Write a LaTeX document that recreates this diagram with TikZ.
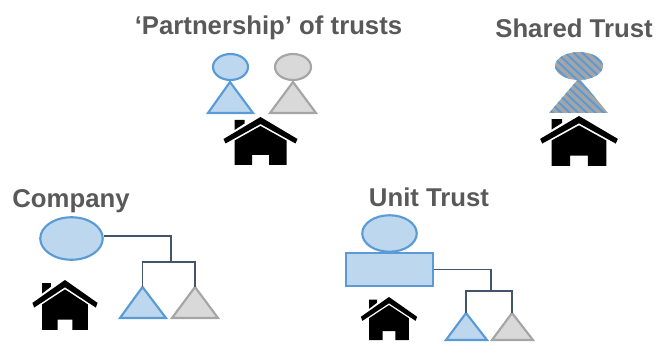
\documentclass[tikz,border=0pt]{standalone}
\usepackage{fontspec}
\setmainfont{Liberation Sans}
\definecolor{bluefill}{HTML}{BDD7EE}
\definecolor{blueline}{HTML}{5B9BD5}
\definecolor{grayfill}{HTML}{D9D9D9}
\definecolor{grayline}{HTML}{A5A5A5}
\definecolor{conn}{HTML}{44546A}
\definecolor{titlecol}{HTML}{595959}
\tikzset{
  title/.style={font=\fontsize{19.3}{22}\selectfont\bfseries,text=titlecol,anchor=base,inner sep=0pt},
  blueshape/.style={draw=blueline,fill=bluefill,line width=1.6pt,line join=miter},
  grayshape/.style={draw=grayline,fill=grayfill,line width=1.6pt,line join=miter},
  connector/.style={draw=conn,line width=1.2pt},
  house/.pic={
    \fill[black] (0,0)--(37,22)--(35,26.5)--(0,7)--(-35,26.5)--(-37,22)--cycle;
    \fill[black] (-26,3)--(-16,3)--(-16,6.5)--(-26,13)--cycle;
    \fill[black] (0,9)--(26,23.5)--(26,48)--(8.5,48)--(8.5,38)--(-8.5,38)--(-8.5,48)--(-26,48)--(-26,23.5)--cycle;
  }
}
\usetikzlibrary{shapes.geometric}
\begin{document}
\begin{tikzpicture}[x=0.75pt,y=-0.75pt]
\useasboundingbox (0,0) rectangle (660,349);
% titles
\node[title] (t1) at (268.5,34.5) {‘Partnership’ of trusts};
\node[title] (t2) at (574,37.5) {Shared Trust};
\node[title] (t3) at (71,207) {Company};
\node[title] (t4) at (429,206.5) {Unit Trust};
% partnership
\draw[blueshape] (230.5,67) ellipse (17.5 and 13);
\draw[grayshape] (293,67) ellipse (18 and 13);
\draw[blueshape] (230,82)--(253,113)--(208,113)--cycle;
\draw[grayshape] (293,82)--(316,113)--(270,113)--cycle;
\pic at (260.5,117) {house};
% shared
\begin{scope}
  \clip (579,66) ellipse (24 and 14) (579,78)--(608,113)--(549,113)--cycle;
  \fill[grayline] (540,45) rectangle (620,120);
  \foreach \k in {-14,...,12} \draw[blueline,line width=1.5pt] (540+\k*8.5,45)--(620+\k*8.5,120);
\end{scope}
\pic[xscale=1.05,yscale=1.04] at (579,116) {house};
% company
\node[ellipse,draw=blueline,fill=bluefill,line width=1.6pt,minimum width=62.5*0.75pt,minimum height=42.5*0.75pt,inner sep=0pt] (co) at (71.5,238.5) {};
\coordinate (cj) at (171,262);
\coordinate (ca) at (142.5,287);
\coordinate (cb) at (195,287);
\draw[blueshape] (ca)--(166,318)--(120,318)--cycle;
\draw[grayshape] (cb)--(218,318)--(172,318)--cycle;
\draw[connector] (co.east) ++(0,-2.5) -- (171,236) -- (cj);
\draw[connector] (ca) -- (ca|-cj) -- (cb|-cj) -- (cb);
\pic[xscale=0.88,yscale=1.04] at (65,280) {house};
% unit
\node[ellipse,draw=blueline,fill=bluefill,line width=1.6pt,minimum width=54.5*0.75pt,minimum height=36.5*0.75pt,inner sep=0pt] (ue) at (389.5,233.5) {};
\node[draw=blueline,fill=bluefill,line width=1.6pt,minimum width=87*0.75pt,minimum height=33*0.75pt,inner sep=0pt] (ur) at (389.5,269.5) {};
\coordinate (uj) at (491,291);
\coordinate (ua) at (466,313);
\coordinate (ub) at (512,313);
\draw[blueshape] (ua)--(487,340)--(446,340)--cycle;
\draw[grayshape] (ub)--(533,340)--(492,340)--cycle;
\draw[connector] (ur.east) -- (uj|-ur.east) -- (uj);
\draw[connector] (ua) -- (ua|-uj) -- (ub|-uj) -- (ub);
\pic[xscale=0.76,yscale=0.9] at (389,297) {house};
\end{tikzpicture}
\end{document}
